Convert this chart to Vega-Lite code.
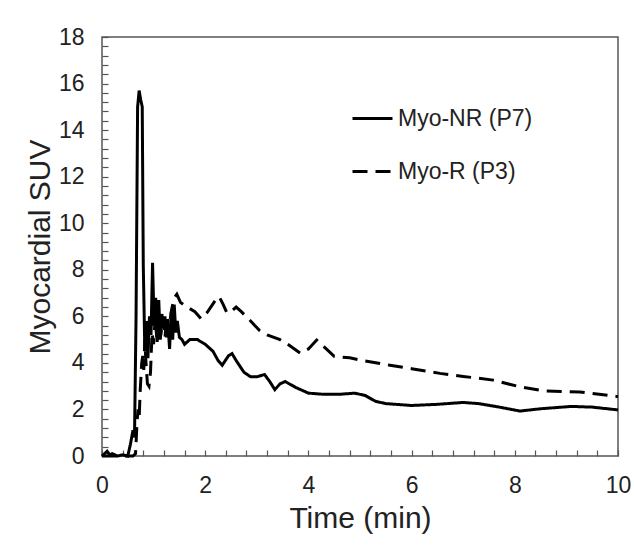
{
  "$schema": "https://vega.github.io/schema/vega-lite/v6.json",
  "width": 516,
  "height": 419,
  "autosize": "none",
  "padding": {"left": 102, "top": 37, "right": 16, "bottom": 92},
  "background": "white",
  "config": {
    "view": {"stroke": "#555", "strokeWidth": 1.5},
    "font": "Liberation Sans",
    "axis": {"grid": false, "domain": false, "labelFont": "Liberation Sans", "titleFont": "Liberation Sans", "labelColor": "#222", "titleColor": "#222", "tickColor": "#555", "titleFontWeight": "normal", "zindex": 1}
  },
  "data": {"values": [
    {"series": "Myo-NR (P7)", "t": 0.00, "v": 0.0},
    {"series": "Myo-NR (P7)", "t": 0.05, "v": 0.1},
    {"series": "Myo-NR (P7)", "t": 0.10, "v": 0.2},
    {"series": "Myo-NR (P7)", "t": 0.15, "v": 0.05},
    {"series": "Myo-NR (P7)", "t": 0.20, "v": 0.1},
    {"series": "Myo-NR (P7)", "t": 0.30, "v": 0.0},
    {"series": "Myo-NR (P7)", "t": 0.40, "v": 0.05},
    {"series": "Myo-NR (P7)", "t": 0.50, "v": 0.0},
    {"series": "Myo-NR (P7)", "t": 0.55, "v": 0.5},
    {"series": "Myo-NR (P7)", "t": 0.60, "v": 1.1},
    {"series": "Myo-NR (P7)", "t": 0.63, "v": 0.8},
    {"series": "Myo-NR (P7)", "t": 0.66, "v": 6.0},
    {"series": "Myo-NR (P7)", "t": 0.69, "v": 15.0},
    {"series": "Myo-NR (P7)", "t": 0.72, "v": 15.7},
    {"series": "Myo-NR (P7)", "t": 0.75, "v": 15.3},
    {"series": "Myo-NR (P7)", "t": 0.78, "v": 15.0},
    {"series": "Myo-NR (P7)", "t": 0.80, "v": 8.2},
    {"series": "Myo-NR (P7)", "t": 0.83, "v": 4.5},
    {"series": "Myo-NR (P7)", "t": 0.86, "v": 5.8},
    {"series": "Myo-NR (P7)", "t": 0.89, "v": 4.2},
    {"series": "Myo-NR (P7)", "t": 0.92, "v": 6.0},
    {"series": "Myo-NR (P7)", "t": 0.95, "v": 5.2},
    {"series": "Myo-NR (P7)", "t": 0.98, "v": 8.3},
    {"series": "Myo-NR (P7)", "t": 1.01, "v": 5.6},
    {"series": "Myo-NR (P7)", "t": 1.04, "v": 6.8},
    {"series": "Myo-NR (P7)", "t": 1.07, "v": 4.9},
    {"series": "Myo-NR (P7)", "t": 1.10, "v": 6.7},
    {"series": "Myo-NR (P7)", "t": 1.13, "v": 5.0},
    {"series": "Myo-NR (P7)", "t": 1.16, "v": 6.1},
    {"series": "Myo-NR (P7)", "t": 1.19, "v": 5.5},
    {"series": "Myo-NR (P7)", "t": 1.22, "v": 6.0},
    {"series": "Myo-NR (P7)", "t": 1.25, "v": 5.1},
    {"series": "Myo-NR (P7)", "t": 1.28, "v": 5.6},
    {"series": "Myo-NR (P7)", "t": 1.31, "v": 4.6},
    {"series": "Myo-NR (P7)", "t": 1.34, "v": 6.2},
    {"series": "Myo-NR (P7)", "t": 1.37, "v": 5.0},
    {"series": "Myo-NR (P7)", "t": 1.40, "v": 6.5},
    {"series": "Myo-NR (P7)", "t": 1.43, "v": 5.3},
    {"series": "Myo-NR (P7)", "t": 1.46, "v": 5.8},
    {"series": "Myo-NR (P7)", "t": 1.50, "v": 5.1},
    {"series": "Myo-NR (P7)", "t": 1.55, "v": 5.0},
    {"series": "Myo-NR (P7)", "t": 1.60, "v": 4.8},
    {"series": "Myo-NR (P7)", "t": 1.70, "v": 5.0},
    {"series": "Myo-NR (P7)", "t": 1.85, "v": 5.0},
    {"series": "Myo-NR (P7)", "t": 2.00, "v": 4.8},
    {"series": "Myo-NR (P7)", "t": 2.15, "v": 4.5},
    {"series": "Myo-NR (P7)", "t": 2.25, "v": 4.1},
    {"series": "Myo-NR (P7)", "t": 2.33, "v": 3.9},
    {"series": "Myo-NR (P7)", "t": 2.45, "v": 4.3},
    {"series": "Myo-NR (P7)", "t": 2.52, "v": 4.4},
    {"series": "Myo-NR (P7)", "t": 2.60, "v": 4.1},
    {"series": "Myo-NR (P7)", "t": 2.75, "v": 3.6},
    {"series": "Myo-NR (P7)", "t": 2.88, "v": 3.4},
    {"series": "Myo-NR (P7)", "t": 3.00, "v": 3.4},
    {"series": "Myo-NR (P7)", "t": 3.15, "v": 3.5},
    {"series": "Myo-NR (P7)", "t": 3.25, "v": 3.2},
    {"series": "Myo-NR (P7)", "t": 3.35, "v": 2.85},
    {"series": "Myo-NR (P7)", "t": 3.45, "v": 3.1},
    {"series": "Myo-NR (P7)", "t": 3.55, "v": 3.2},
    {"series": "Myo-NR (P7)", "t": 3.75, "v": 2.95},
    {"series": "Myo-NR (P7)", "t": 4.00, "v": 2.7},
    {"series": "Myo-NR (P7)", "t": 4.30, "v": 2.65},
    {"series": "Myo-NR (P7)", "t": 4.60, "v": 2.65},
    {"series": "Myo-NR (P7)", "t": 4.90, "v": 2.7},
    {"series": "Myo-NR (P7)", "t": 5.10, "v": 2.6},
    {"series": "Myo-NR (P7)", "t": 5.30, "v": 2.35},
    {"series": "Myo-NR (P7)", "t": 5.50, "v": 2.25},
    {"series": "Myo-NR (P7)", "t": 6.00, "v": 2.17},
    {"series": "Myo-NR (P7)", "t": 6.50, "v": 2.22},
    {"series": "Myo-NR (P7)", "t": 7.00, "v": 2.3},
    {"series": "Myo-NR (P7)", "t": 7.30, "v": 2.25},
    {"series": "Myo-NR (P7)", "t": 7.70, "v": 2.1},
    {"series": "Myo-NR (P7)", "t": 8.10, "v": 1.93},
    {"series": "Myo-NR (P7)", "t": 8.50, "v": 2.03},
    {"series": "Myo-NR (P7)", "t": 9.10, "v": 2.13},
    {"series": "Myo-NR (P7)", "t": 9.50, "v": 2.1},
    {"series": "Myo-NR (P7)", "t": 10.00, "v": 1.98},
    {"series": "Myo-R (P3)", "t": 0.00, "v": 0.0},
    {"series": "Myo-R (P3)", "t": 0.60, "v": 0.0},
    {"series": "Myo-R (P3)", "t": 0.65, "v": 0.1},
    {"series": "Myo-R (P3)", "t": 0.68, "v": 1.5},
    {"series": "Myo-R (P3)", "t": 0.70, "v": 2.0},
    {"series": "Myo-R (P3)", "t": 0.72, "v": 1.6},
    {"series": "Myo-R (P3)", "t": 0.74, "v": 2.8},
    {"series": "Myo-R (P3)", "t": 0.77, "v": 4.0},
    {"series": "Myo-R (P3)", "t": 0.79, "v": 4.3},
    {"series": "Myo-R (P3)", "t": 0.81, "v": 3.7},
    {"series": "Myo-R (P3)", "t": 0.83, "v": 5.0},
    {"series": "Myo-R (P3)", "t": 0.85, "v": 4.1},
    {"series": "Myo-R (P3)", "t": 0.88, "v": 3.1},
    {"series": "Myo-R (P3)", "t": 0.91, "v": 3.0},
    {"series": "Myo-R (P3)", "t": 0.94, "v": 3.6},
    {"series": "Myo-R (P3)", "t": 0.97, "v": 5.3},
    {"series": "Myo-R (P3)", "t": 1.00, "v": 4.8},
    {"series": "Myo-R (P3)", "t": 1.03, "v": 5.9},
    {"series": "Myo-R (P3)", "t": 1.06, "v": 5.1},
    {"series": "Myo-R (P3)", "t": 1.10, "v": 5.7},
    {"series": "Myo-R (P3)", "t": 1.14, "v": 5.2},
    {"series": "Myo-R (P3)", "t": 1.18, "v": 5.9},
    {"series": "Myo-R (P3)", "t": 1.22, "v": 5.1},
    {"series": "Myo-R (P3)", "t": 1.26, "v": 6.0},
    {"series": "Myo-R (P3)", "t": 1.30, "v": 5.4},
    {"series": "Myo-R (P3)", "t": 1.35, "v": 6.3},
    {"series": "Myo-R (P3)", "t": 1.40, "v": 6.8},
    {"series": "Myo-R (P3)", "t": 1.45, "v": 6.95},
    {"series": "Myo-R (P3)", "t": 1.52, "v": 6.6},
    {"series": "Myo-R (P3)", "t": 1.65, "v": 6.4},
    {"series": "Myo-R (P3)", "t": 1.80, "v": 6.2},
    {"series": "Myo-R (P3)", "t": 1.92, "v": 5.9},
    {"series": "Myo-R (P3)", "t": 2.05, "v": 6.2},
    {"series": "Myo-R (P3)", "t": 2.20, "v": 6.7},
    {"series": "Myo-R (P3)", "t": 2.27, "v": 6.85},
    {"series": "Myo-R (P3)", "t": 2.35, "v": 6.5},
    {"series": "Myo-R (P3)", "t": 2.42, "v": 6.15},
    {"series": "Myo-R (P3)", "t": 2.50, "v": 6.2},
    {"series": "Myo-R (P3)", "t": 2.60, "v": 6.4},
    {"series": "Myo-R (P3)", "t": 2.70, "v": 6.2},
    {"series": "Myo-R (P3)", "t": 2.88, "v": 5.8},
    {"series": "Myo-R (P3)", "t": 3.05, "v": 5.4},
    {"series": "Myo-R (P3)", "t": 3.20, "v": 5.2},
    {"series": "Myo-R (P3)", "t": 3.45, "v": 5.0},
    {"series": "Myo-R (P3)", "t": 3.60, "v": 4.8},
    {"series": "Myo-R (P3)", "t": 3.84, "v": 4.42},
    {"series": "Myo-R (P3)", "t": 4.00, "v": 4.6},
    {"series": "Myo-R (P3)", "t": 4.16, "v": 4.98},
    {"series": "Myo-R (P3)", "t": 4.30, "v": 4.7},
    {"series": "Myo-R (P3)", "t": 4.50, "v": 4.28},
    {"series": "Myo-R (P3)", "t": 4.80, "v": 4.22},
    {"series": "Myo-R (P3)", "t": 5.00, "v": 4.12},
    {"series": "Myo-R (P3)", "t": 5.58, "v": 3.9},
    {"series": "Myo-R (P3)", "t": 6.00, "v": 3.75},
    {"series": "Myo-R (P3)", "t": 6.55, "v": 3.55},
    {"series": "Myo-R (P3)", "t": 7.00, "v": 3.42},
    {"series": "Myo-R (P3)", "t": 7.58, "v": 3.26},
    {"series": "Myo-R (P3)", "t": 8.10, "v": 2.97},
    {"series": "Myo-R (P3)", "t": 8.55, "v": 2.8},
    {"series": "Myo-R (P3)", "t": 9.26, "v": 2.75},
    {"series": "Myo-R (P3)", "t": 10.00, "v": 2.55}
  ]},
  "mark": {"type": "line", "color": "black", "strokeWidth": 3, "interpolate": "linear"},
  "encoding": {
    "x": {
      "field": "t", "type": "quantitative",
      "scale": {"domain": [0, 10], "nice": false},
      "axis": {
        "title": "Time (min)", "titleFontSize": 30, "titlePadding": 6,
        "values": [0, 0.4, 0.8, 1.2, 1.6, 2, 2.4, 2.8, 3.2, 3.6, 4, 4.4, 4.8, 5.2, 5.6, 6, 6.4, 6.8, 7.2, 7.6, 8, 8.4, 8.8, 9.2, 9.6, 10],
        "labelExpr": "datum.value % 2 == 0 ? '' + datum.value : ''",
        "labelOverlap": false, "labelFlush": false,
        "labelFontSize": 23, "labelPadding": 24, "tickSize": -6, "tickWidth": 1.2
      }
    },
    "y": {
      "field": "v", "type": "quantitative",
      "scale": {"domain": [0, 18], "nice": false},
      "axis": {
        "title": "Myocardial SUV", "titleFontSize": 30, "titlePadding": 3,
        "values": [0, 0.4, 0.8, 1.2, 1.6, 2, 2.4, 2.8, 3.2, 3.6, 4, 4.4, 4.8, 5.2, 5.6, 6, 6.4, 6.8, 7.2, 7.6, 8, 8.4, 8.8, 9.2, 9.6, 10, 10.4, 10.8, 11.2, 11.6, 12, 12.4, 12.8, 13.2, 13.6, 14, 14.4, 14.8, 15.2, 15.6, 16, 16.4, 16.8, 17.2, 17.6, 18],
        "labelExpr": "datum.value % 2 == 0 ? '' + datum.value : ''",
        "labelOverlap": false, "labelFlush": false,
        "labelFontSize": 23, "labelPadding": 24, "tickSize": -6, "tickWidth": 1.2
      }
    },
    "strokeDash": {
      "field": "series", "type": "nominal",
      "scale": {"domain": ["Myo-NR (P7)", "Myo-R (P3)"], "range": [[1, 0], [15, 8]]},
      "legend": {
        "title": null, "orient": "none", "legendX": 249, "legendY": 60,
        "symbolType": "stroke", "symbolSize": 1600, "symbolStrokeWidth": 3, "symbolStrokeColor": "black",
        "labelFontSize": 23, "labelFont": "Liberation Sans", "labelColor": "#222", "labelOffset": 4,
        "rowPadding": 19, "padding": 0
      }
    }
  }
}
